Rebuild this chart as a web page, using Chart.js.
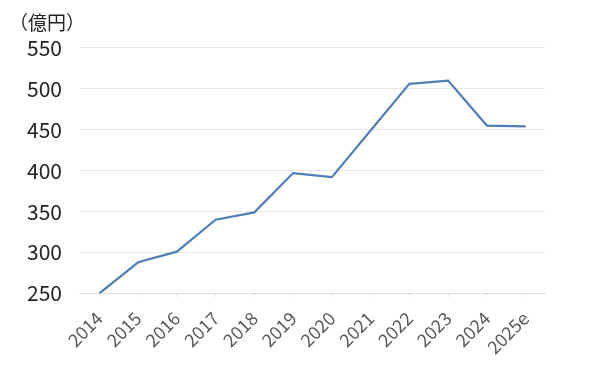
<!DOCTYPE html>
<html>
<head>
<meta charset="utf-8">
<script src="https://cdn.jsdelivr.net/npm/chart.js@4/dist/chart.umd.min.js"></script>
<style>
  html, body { margin: 0; padding: 0; background: #fff; }
  #wrap { width: 600px; height: 390px; position: relative; }
</style>
</head>
<body>
<div id="wrap"><canvas id="chart"></canvas></div>
<script>
// data
const years = ["2014", "2015", "2016", "2017", "2018", "2019", "2020", "2021", "2022", "2023", "2024", "2025e"];
const sales = [250, 288, 301, 340, 349, 397, 392, 449, 506, 510, 455, 454];
const unitLabel = "（億円）";
const yMin = 250, yMax = 550, yStep = 50;

const fontFamily = "'Noto Sans CJK JP', 'Noto Sans', sans-serif";

new Chart(document.getElementById("chart"), {
    type: "line",
    data: {
        labels: years,
        datasets: [
            {
                data: sales,
                borderColor: "#4f7fb5",
                borderWidth: 2.2,
                pointRadius: 0,
                tension: 0,
                fill: false,
            },
        ],
    },
    options: {
        responsive: true,
        maintainAspectRatio: false,
        animation: false,
        layout: { padding: { left: 9, right: 55, top: 11, bottom: 22 } },
        plugins: {
            legend: { display: false },
            tooltip: { enabled: false },
            title: {
                display: true,
                text: unitLabel,
                align: "start",
                color: "#222",
                font: { family: fontFamily, size: 19, weight: "normal" },
                padding: { top: 0, bottom: 14 },
            },
        },
        scales: {
            x: {
                offset: true,
                grid: {
                    display: true,
                    drawOnChartArea: false,
                    drawTicks: true,
                    tickLength: 4,
                    color: "#e6e6e6",
                },
                border: { display: true, color: "#dcdcdc" },
                ticks: {
                    color: "#595959",
                    font: { family: fontFamily, size: 18 },
                    maxRotation: 45,
                    minRotation: 45,
                    padding: 10,
                    autoSkip: false,
                },
            },
            y: {
                min: yMin,
                max: yMax,
                grid: { color: "#e6e6e6", drawTicks: false },
                border: { display: false },
                ticks: {
                    stepSize: yStep,
                    color: "#222",
                    padding: 18,
                    font: { family: fontFamily, size: 21 },
                },
            },
        },
    },
});
</script>
</body>
</html>
